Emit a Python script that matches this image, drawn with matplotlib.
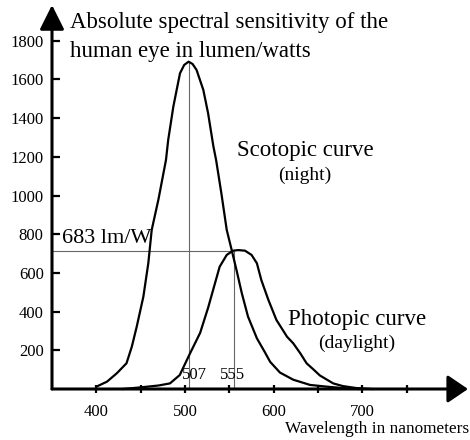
import numpy as np
import matplotlib.pyplot as plt

plt.rcParams['font.family'] = ['Liberation Serif', 'DejaVu Serif']

# curves (wavelength nm, lumen/W)
scotopic_nm = [400, 412, 423, 434, 440, 445.5, 453, 458.6, 462.4, 470, 478.5, 481,
               486.8, 494.3, 499, 504, 508.5, 513, 520.6, 526, 532, 535, 541, 547,
               552.6, 558, 564, 571, 581, 590, 596, 607, 622, 641, 660, 678, 695]
scotopic_val = [12, 38, 81, 133, 219, 322, 477, 651, 822, 980, 1184, 1287,
                1460, 1632, 1675, 1692, 1680, 1649, 1546, 1425, 1253, 1184, 1010, 822,
                718, 615, 495, 374, 262, 190, 140, 85, 48, 21, 12, 5, 0]

photopic_nm = [430, 449, 470, 483, 494, 505.6, 517, 526, 539, 547, 554, 560, 567.6,
               575, 581, 586, 594, 603, 615, 622, 630, 637, 645, 652, 667, 678,
               693, 710]
photopic_val = [0, 8, 18, 29, 72, 184, 290, 420, 632, 693, 715, 718, 715,
                693, 650, 563, 460, 357, 270, 236, 184, 133, 100, 70, 29, 15,
                5, 0]

scotopic_peak = (504, 1692)
photopic_peak = (555, 715)

x_major = [400, 500, 600, 700]
x_minor = [450, 550, 650, 750]
y_ticks = [200, 400, 600, 800, 1000, 1200, 1400, 1600, 1800]

X0, X1 = 350, 819
Y0, Y1 = 0, 1985

fig = plt.figure(figsize=(4.7, 4.4), dpi=100)
ax = fig.add_axes([52 / 470, 51 / 440, (468 - 52) / 470, (389 - 5) / 440])
ax.set_xlim(X0, X1)
ax.set_ylim(Y0, Y1)
for s in ax.spines.values():
    s.set_visible(False)

# axes with arrow heads
arrow = dict(arrowstyle='-|>,head_length=15,head_width=7.5', color='black',
             lw=2.2, mutation_scale=1, shrinkA=0, shrinkB=0)
ax.annotate('', xy=(0, 1), xytext=(0, 0), xycoords='axes fraction',
            arrowprops=arrow, annotation_clip=False)
arrow_x = dict(arrow, arrowstyle='-|>,head_length=12.5,head_width=8.5')
ax.annotate('', xy=(1, 0), xytext=(0, 0), xycoords='axes fraction',
            arrowprops=arrow_x, annotation_clip=False)

ax.set_yticks(y_ticks)
ax.set_yticklabels([str(v) for v in y_ticks])
ax.set_xticks(x_major)
ax.set_xticklabels([str(v) for v in x_major])
ax.set_xticks(x_minor, minor=True)
ax.tick_params(axis='y', direction='in', length=6, width=1.6, pad=6, labelsize=12)
ax.tick_params(axis='x', which='both', direction='inout', length=6, width=1.6,
               pad=8, labelsize=12)

# reference lines
lc = '#666666'
ax.plot([scotopic_peak[0]] * 2, [0, scotopic_peak[1]], color=lc, lw=0.8)
ax.plot([photopic_peak[0]] * 2, [0, photopic_peak[1]], color=lc, lw=0.8)
ax.plot([X0, photopic_peak[0]], [photopic_peak[1]] * 2, color=lc, lw=0.8)

ax.plot(scotopic_nm, scotopic_val, color='black', lw=1.6, clip_on=False)
ax.plot(photopic_nm, photopic_val, color='black', lw=1.6, clip_on=False)

# labels
ax.text(370, 1866, 'Absolute spectral sensitivity of the', fontsize=16.5,
        va='baseline')
ax.text(370, 1716, 'human eye in lumen/watts', fontsize=16.5, va='baseline')
ax.text(559, 1205, 'Scotopic curve', fontsize=16.5, va='baseline')
ax.text(635, 1080, '(night)', fontsize=14, va='baseline', ha='center')
ax.text(616, 331, 'Photopic curve', fontsize=16.5, va='baseline')
ax.text(693, 212, '(daylight)', fontsize=14, va='baseline', ha='center')
ax.text(361, 755, '683 lm/W', fontsize=16, va='baseline')
ax.text(497, 52, '507', fontsize=12, va='baseline')
ax.text(539, 52, '555', fontsize=12, va='baseline')
ax.text(820, -227, 'Wavelength in nanometers', fontsize=12.4, va='baseline',
        ha='right', clip_on=False)

fig.savefig('out.png', dpi=100)
